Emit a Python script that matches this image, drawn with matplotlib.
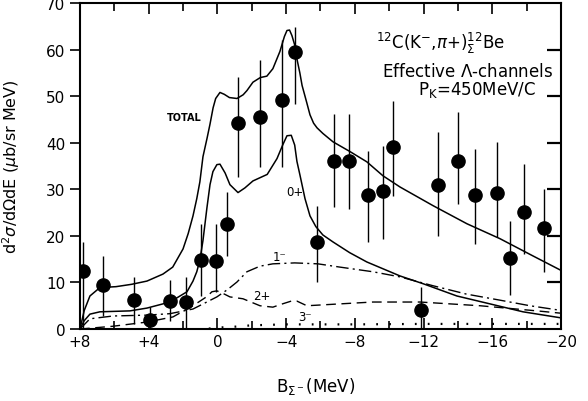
import numpy as np
import matplotlib
matplotlib.use("Agg")
import matplotlib.pyplot as plt

plt.rcParams['font.family'] = ['DejaVu Sans']
plt.rcParams['mathtext.fontset'] = 'dejavusans'

# measured points: B_sigma (MeV), cross section, lower / upper error
b_data = [7.83, 6.66, 4.86, 3.93, 2.76, 1.83, 0.96, 0.08, -0.56, -1.2, -2.48, -3.76,
          -4.51, -5.8, -6.78, -7.66, -8.76, -9.64, -10.22, -11.85, -12.84, -14.0,
          -14.99, -16.27, -17.03, -17.84, -19.0]
sig_data = [12.5, 9.4, 6.2, 1.9, 6.0, 5.8, 14.8, 14.6, 22.6, 44.3, 45.6, 49.2,
            59.4, 18.7, 36.1, 36.1, 28.8, 29.7, 39.1, 4.1, 31.0, 36.1,
            28.8, 29.2, 15.3, 25.2, 21.7]
err_lo = [12.5, 6.6, 5.2, 1.9, 4.3, 5.8, 7.7, 6.6, 6.9, 11.6, 10.8, 14.4,
          11.0, 8.6, 9.9, 10.3, 10.1, 10.3, 10.5, 4.1, 11.0, 9.2,
          10.5, 9.4, 8.0, 9.1, 9.4]
err_hi = [6.2, 6.3, 5.0, 2.8, 4.5, 5.4, 7.8, 8.0, 6.9, 9.9, 12.2, 12.8,
          5.5, 7.8, 10.1, 10.1, 9.5, 9.7, 9.9, 4.9, 11.2, 10.4,
          9.9, 11.0, 7.9, 10.3, 8.4]

# calculated curves
b_total = [8, 7.75, 7.42, 6.84, 5.9, 5.0, 4.1, 3.17, 2.6, 2.0, 1.7, 1.42, 1.2, 1.02, 0.84,
           0.6, 0.43, 0.25, 0.1, -0.15, -0.4, -0.7, -1.14, -1.5, -1.72, -2.07, -2.5,
           -2.88, -3.23, -3.64, -3.9, -4.05, -4.2, -4.34, -4.5, -4.63, -4.8, -4.93, -5.1,
           -5.21, -5.39, -5.6, -5.8, -6.14, -6.73, -7.72, -8.7, -9.64, -10.63, -12.55,
           -14.53, -16.45, -18.37, -20]
sig_total = [0, 4.0, 7.1, 8.9, 9.1, 9.6, 10.3, 11.8, 13.3, 17.2, 20.5, 24.3, 28.0, 31.6, 37.0,
             41.0, 44.0, 47.5, 49.5, 50.8, 50.4, 49.7, 49.5, 50.3, 51.2, 53.0, 54.0,
             54.3, 55.9, 59.6, 62.8, 64.1, 64.2, 63.0, 61.0, 58.0, 55.0, 52.3, 50.0,
             48.5, 46.0, 44.2, 43.2, 42.0, 40.2, 38.1, 35.9, 32.9, 30.5, 26.5,
             22.6, 19.4, 15.7, 12.6]

b_0p = [8, 7.75, 7.42, 6.84, 5.09, 4.1, 2.76, 1.77, 1.42, 1.2, 1.02, 0.84, 0.61, 0.43, 0.26,
        0.03, -0.15, -0.45, -0.73, -1.2, -1.6, -2.07, -2.9, -3.47, -3.8, -4.05, -4.3,
        -4.5, -4.63, -4.81, -5.1, -5.39, -5.73, -6.14, -6.73, -7.7, -8.7, -10.63, -12.0,
        -13.94, -15.87, -17.79, -20]
sig_0p = [0, 1.8, 3.2, 3.7, 3.9, 4.5, 5.8, 8.0, 10.3, 12.3, 14.8, 19.0, 26.0, 31.0, 33.8,
          35.3, 35.4, 33.5, 31.0, 29.3, 30.3, 31.8, 33.2, 36.6, 39.5, 41.5, 41.6,
          39.5, 36.0, 33.0, 28.0, 24.3, 22.0, 20.2, 18.7, 16.4, 14.4, 11.4, 9.7,
          7.1, 5.4, 3.7, 2.4]

b_1m = [8, 7.42, 6.08, 4.0, 2.76, 1.42, 0.03, -0.6, -1.14, -1.72, -2.48, -3.23, -4.5,
        -5.85, -7.13, -9.05, -10.63, -12.55, -14.5, -16.45, -18.2, -20]
sig_1m = [0, 2.2, 2.8, 3.0, 3.3, 4.3, 6.9, 8.5, 10.1, 12.3, 13.5, 14.0, 14.2,
          14.0, 13.3, 12.3, 11.2, 9.3, 7.5, 6.2, 5.0, 4.0]

b_2p = [8, 6.08, 4.1, 2.59, 1.42, 0.6, 0.32, 0.03, -0.3, -0.73, -1.49, -2.48, -3.23,
        -3.7, -4.3, -4.63, -5.21, -7.13, -9.05, -11.8, -15.3, -18.6, -20]
sig_2p = [0, 0.6, 1.5, 2.6, 5.0, 7.0, 8.0, 8.2, 7.7, 6.9, 6.5, 5.0, 4.7,
          5.3, 6.0, 6.0, 5.0, 5.4, 5.8, 5.8, 5.0, 3.9, 3.4]

b_3m = [0.5, 0, -1, -2, -3, -4, -8, -12, -16, -20]
sig_3m = [0.1, 0.3, 0.5, 0.8, 0.9, 1.0, 1.0, 1.1, 1.1, 1.1]

x_ticks = [8, 4, 0, -4, -8, -12, -16, -20]
x_ticklabels = ['+8', '+4', '0', '\u22124', '\u22128', '\u221212', '\u221216', '\u221220']
y_ticks = [0, 10, 20, 30, 40, 50, 60, 70]

fig = plt.figure(figsize=(5.88, 4.02), dpi=100)
ax = fig.add_axes([0.136, 0.179, 0.818, 0.811])

ax.plot(b_total, sig_total, color='black', lw=1.1)
ax.plot(b_0p, sig_0p, color='black', lw=1.1)
ax.plot(b_1m, sig_1m, color='black', lw=1.0, linestyle=(0, (9, 3, 1.5, 3)))
ax.plot(b_2p, sig_2p, color='black', lw=1.0, linestyle=(0, (7, 4)))
ax.plot(b_3m, sig_3m, color='black', lw=1.6, linestyle=(0, (0.8, 5)))

ax.errorbar(b_data, sig_data, yerr=[err_lo, err_hi], fmt='o', color='black',
            ms=9.5, elinewidth=1.0, capsize=0)

ax.text(1.95, 45.6, 'TOTAL', fontsize=7, fontweight='bold', ha='center', va='center')
ax.text(-4.5, 29.5, '0+', fontsize=8.5, ha='center', va='center')
ax.text(-3.64, 15.6, '1\u207b', fontsize=8.5, ha='center', va='center')
ax.text(-2.6, 7.2, '2+', fontsize=8.5, ha='center', va='center')
ax.text(-5.1, 2.8, '3\u207b', fontsize=8.5, ha='center', va='center')

ax.text(0.75, 0.88, r'$^{12}$C(K$^{-}$,$\pi$+)$^{12}_{\Sigma}$Be', transform=ax.transAxes,
        fontsize=12, ha='center', va='center')
ax.text(0.805, 0.79, r'Effective $\Lambda$-channels', transform=ax.transAxes,
        fontsize=12, ha='center', va='center')
ax.text(0.826, 0.736, r'P$_{\mathrm{K}}$=450MeV/C', transform=ax.transAxes,
        fontsize=12, ha='center', va='center')

ax.set_xlim(8, -20)
ax.set_ylim(0, 70)
ax.set_xticks(x_ticks)
ax.set_xticklabels(x_ticklabels, fontsize=11)
ax.set_xticks(np.arange(8, -21, -2), minor=True)
ax.set_yticks(y_ticks)
ax.set_yticklabels([str(v) for v in y_ticks], fontsize=11)

ax.tick_params(axis='x', which='both', direction='in', top=True, length=8, width=1.2)
ax.tick_params(axis='x', which='minor', length=6)
ax.tick_params(axis='y', which='both', direction='out', left=True, right=False,
               length=7, width=1.2)

# inward ticks along the right-hand frame
ytr = ax.get_yaxis_transform()
for v in y_ticks[1:-1]:
    ax.plot([0.97, 1.0], [v, v], transform=ytr, color='black', lw=1.6,
            solid_capstyle='butt', clip_on=False, zorder=5)

for s in ax.spines.values():
    s.set_linewidth(1.5)

ax.set_ylabel(r'd$^2\sigma$/d$\Omega$dE ($\mu$b/sr MeV)', fontsize=11.5)
ax.yaxis.set_label_coords(-0.12, 0.5)
ax.set_xlabel(r'B$_{\Sigma^-}$(MeV)', fontsize=12)
ax.xaxis.set_label_coords(0.49, -0.14)

fig.savefig('out.png', dpi=100)
